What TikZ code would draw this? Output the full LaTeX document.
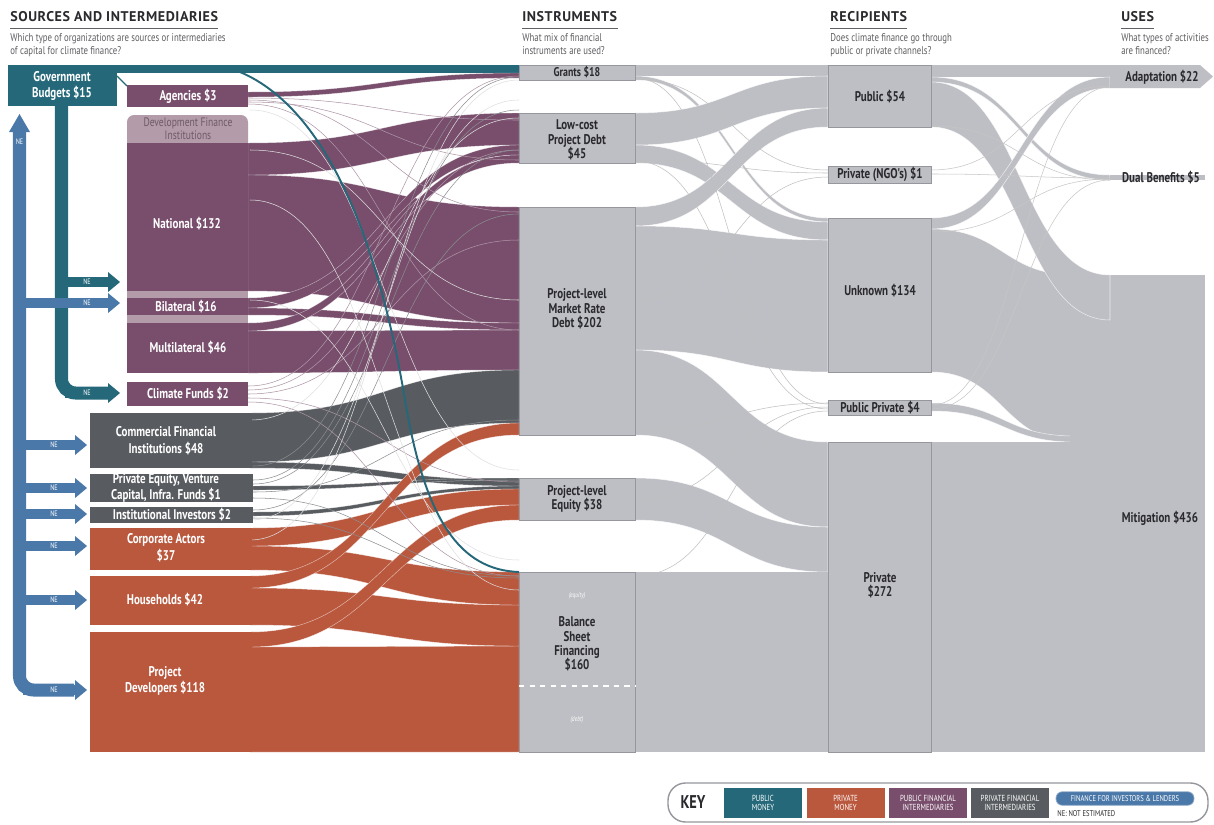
\documentclass[tikz,border=0pt]{standalone}
\usepackage{fontspec}
\setmainfont{PT Sans}
\newfontfamily\cond[FakeStretch=0.78]{PT Sans}
\newfontfamily\headfont[LetterSpace=4]{PT Sans}
\definecolor{pubmoney}{RGB}{36,104,122}
\definecolor{lendblue}{RGB}{74,120,168}
\definecolor{pubfi}{RGB}{120,78,108}
\definecolor{dfi}{RGB}{180,155,170}
\definecolor{dfitext}{RGB}{110,90,102}
\definecolor{privfi}{RGB}{88,92,96}
\definecolor{privmoney}{RGB}{186,88,62}
\definecolor{flow}{RGB}{190,191,196}
\definecolor{boxedge}{RGB}{150,151,156}
\definecolor{ink}{RGB}{42,42,46}
\definecolor{subgray}{RGB}{95,95,100}
% band between two columns: x1, top1, bottom1, x2, top2, bottom2, style
\newcommand{\flowband}[7]{\filldraw[#7] (#1,#2) .. controls ({(#1+#4)/2},#2) and ({(#1+#4)/2},#5) .. (#4,#5) -- (#4,#6) .. controls ({(#1+#4)/2},#6) and ({(#1+#4)/2},#3) .. (#1,#3) -- cycle;}
% thin line between two columns
\newcommand{\thread}[5]{\draw[#5] (#1,#2) .. controls ({(#1+#3)/2},#2) and ({(#1+#3)/2},#4) .. (#3,#4);}
% NE feed arrow: colour, x start, y, x tip
\newcommand{\nefeed}[4]{\fill[#1] (#2,#3-5) rectangle (#4-12,#3+5);
  \fill[#1] (#4-12,#3-10) -- (#4,#3) -- (#4-12,#3+10) -- cycle;
  \node[netext] at (#4-33,#3) {NE};}
\begin{document}
\begin{tikzpicture}[x=0.02cm, y=-0.02cm,
  head/.style={font=\headfont\bfseries\fontsize{8}{9}\selectfont, text=ink, inner sep=0pt, anchor=west},
  rule/.style={draw=subgray, line width=.5pt},
  sub/.style={font=\cond\fontsize{6.4}{7.6}\selectfont, text=subgray, inner sep=0pt, anchor=north west, align=left},
  srclbl/.style={font=\cond\bfseries\fontsize{8}{9.5}\selectfont, text=white, inner sep=0pt, align=center},
  inslbl/.style={font=\cond\bfseries\fontsize{8}{8.2}\selectfont, text=ink, inner sep=0pt, align=center},
  tinylbl/.style={font=\cond\itshape\fontsize{4}{4}\selectfont, text=white, inner sep=0pt},
  pband/.style={fill=pubfi, draw=white, draw opacity=.5, line width=.25pt},
  dband/.style={fill=privfi, draw=white, draw opacity=.5, line width=.25pt},
  oband/.style={fill=privmoney, draw=white, draw opacity=.6, line width=.25pt},
  gband/.style={fill=flow, draw=white, draw opacity=.7, line width=.3pt},
  box/.style={fill=flow, draw=boxedge, line width=.4pt},
  thread/.style={line width=.3pt},
  netext/.style={font=\cond\fontsize{4.5}{5}\selectfont, text=white, inner sep=0pt},
  keybox/.style={minimum width=1.56cm, minimum height=.6cm, inner sep=0pt, align=center,
    font=\cond\fontsize{5}{5.4}\selectfont, text=white}]
\useasboundingbox (0,0) rectangle (1214,825);
\fill[white] (0,0) rectangle (1214,825);

% headings
\node[head] (hsrc) at (10,17) {SOURCES AND INTERMEDIARIES};
\node[head] (hins) at (522,17) {INSTRUMENTS};
\node[head] (hrec) at (830,17) {RECIPIENTS};
\node[head] (huse) at (1121,17) {USES};
\foreach \h in {hsrc,hins,hrec,huse}
  {\draw[rule] ([yshift=-3.5pt]\h.south west) -- ([yshift=-3.5pt]\h.south east);}
\node[sub] (qsrc) at (10,33) {Which type of organizations are sources or intermediaries\\of capital for climate finance?};
\node[sub] (qins) at (522,33) {What mix of financial\\instruments are used?};
\node[sub] (qrec) at (830,33) {Does climate finance go through\\public or private channels?};
\node[sub] (quse) at (1121,33) {What types of activities\\are financed?};

% sources -> instruments
\fill[pubmoney] (117,65) rectangle (519,73);
\flowband{248}{92}{97}{519}{73}{78}{pband}
\flowband{248}{143}{175}{519}{113}{145}{pband}
\flowband{248}{175}{291}{519}{207}{323}{pband}
\flowband{248}{298}{308}{519}{145}{155}{pband}
\flowband{248}{308}{315}{519}{323}{330}{pband}
\flowband{248}{323}{331}{519}{155}{163}{pband}
\flowband{248}{331}{373}{519}{330}{370}{pband}
\flowband{250}{413}{462}{519}{370}{423}{dband}
\flowband{250}{462}{468}{519}{480}{486}{dband}
\flowband{253}{486}{490}{519}{478}{480}{dband}
\flowband{253}{512}{516}{519}{486}{489}{dband}
\flowband{250}{647}{752}{519}{646}{752}{oband}
\flowband{250}{588}{625}{519}{605}{646}{oband}
\flowband{250}{546}{570}{519}{572}{605}{oband}
\flowband{250}{528}{546}{519}{489}{505}{oband}
\flowband{250}{632}{647}{519}{505}{520}{oband}
\flowband{250}{576}{588}{519}{423}{435}{oband}
\foreach \ya/\yb in {98/120,100/212,102/160,386/76,390/150,394/240,398/482,402/576,104/330}
  {\thread{248}{\ya}{519}{\yb}{thread, pubfi!60!white}}
\foreach \ya/\yb in {484/150,492/420,498/576,510/214,518/578,466/77,480/110}
  {\thread{253}{\ya}{519}{\yb}{thread, privfi!70!white}}
\foreach \ya/\yb in {110/470,300/560,520/100,150/300,420/118,540/80,200/590}
  {\thread{250}{\ya}{519}{\yb}{thread, white!75!gray}}
\draw[pubmoney, line width=1.1pt] (240,72) .. controls (330,110) and (380,250) .. (405,400)
  .. controls (425,520) and (460,570) .. (519,572);
\draw[pubmoney, line width=.8pt] (117,76) -- (127,86);

% instruments -> recipients
\fill[flow] (635,65) rectangle (828,76);
\flowband{635}{76}{80}{828}{218}{222}{gband}
\flowband{635}{113}{145}{828}{76}{108}{gband}
\flowband{635}{145}{163}{828}{222}{240}{gband}
\flowband{635}{207}{226}{828}{108}{127}{gband}
\flowband{635}{226}{350}{828}{240}{372}{gband}
\flowband{635}{350}{435}{828}{442}{527}{gband}
\flowband{635}{478}{520}{828}{527}{572}{gband}
\fill[flow] (635,572) rectangle (828,752);
\foreach \ya/\yb in {79/170,160/173,300/177,430/403,500/407,576/411,78/404,161/409}
  {\thread{635}{\ya}{828}{\yb}{thread, gray!50}}

% recipients -> uses
\fill[flow] (931,65) rectangle (1110,77);
\flowband{931}{77}{82}{1110}{175}{180}{gband}
\flowband{931}{229}{372}{1075}{275}{442}{gband}
\flowband{931}{403}{411}{1075}{436}{442}{gband}
\fill[flow] (931,442) rectangle (1110,752);
\fill[flow] (1070,300) rectangle (1110,752);
\fill[flow] (1110,275) rectangle (1205,752);
\flowband{931}{82}{127}{1110}{275}{320}{gband}
\flowband{931}{218}{229}{1110}{77}{88}{gband}
\fill[flow] (1110,65) -- (1200,65) -- (1213,76.5) -- (1200,88) -- (1110,88) -- cycle;
\fill[flow] (1110,175) rectangle (1205,180);
\foreach \ya/\yb in {170/86,174/178,405/87,409/180,232/179,126/180}
  {\thread{931}{\ya}{1110}{\yb}{thread, gray!45}}

% source blocks
\fill[pubmoney] (8,65) rectangle (117,106);
\fill[pubfi] (127,85) rectangle (248,107);
\fill[dfi, rounded corners=4pt] (127,115) rectangle (248,150);
\fill[pubfi] (127,143) rectangle (248,291);
\fill[dfi] (127,291) rectangle (248,298);
\fill[pubfi] (127,298) rectangle (248,315);
\fill[dfi] (127,315) rectangle (248,323);
\fill[pubfi] (127,323) rectangle (248,373);
\fill[pubfi] (127,382) rectangle (248,406);
\fill[privfi] (90,413) rectangle (252,468);
\fill[privfi] (90,474) rectangle (253,502);
\fill[privfi] (90,507) rectangle (253,523);
\fill[privmoney] (90,528) rectangle (252,570);
\fill[privmoney] (90,576) rectangle (252,625);
\fill[privmoney] (90,632) rectangle (252,752);

% NE feeds
\draw[pubmoney, line width=7.4pt, rounded corners=8pt] (61.5,100) -- (61.5,393) -- (108,393);
\nefeed{pubmoney}{65}{282}{120}
\nefeed{pubmoney}{65}{393}{120}
\draw[lendblue, line width=7.4pt, rounded corners=8pt] (19.5,130) -- (19.5,690) -- (74,690);
\fill[lendblue] (9,132) -- (19.5,114) -- (30,132) -- cycle;
\node[netext] (neup) at (19.5,142) {NE};
\nefeed{lendblue}{23}{303}{120}
\foreach \y in {445,488,514,546,600,690}
  {\nefeed{lendblue}{23}{\y}{87}}

% source labels
\node[srclbl] (gov) at (62,86) {Government\\Budgets \$15};
\node[srclbl] (agen) at (188,96) {Agencies \$3};
\node[font=\cond\fontsize{7}{7.6}\selectfont, text=dfitext, align=center, inner sep=0pt] (dfin) at (188,129) {Development Finance\\Institutions};
\node[srclbl] (natl) at (187,224) {National \$132};
\node[srclbl] (bilat) at (186,307) {Bilateral \$16};
\node[srclbl] (multi) at (188,348) {Multilateral \$46};
\node[srclbl] (cfund) at (188,394) {Climate Funds \$2};
\node[srclbl] (comm) at (166,441) {Commercial Financial\\Institutions \$48};
\node[srclbl] (peq) at (166,488) {Private Equity, Venture\\Capital, Infra. Funds \$1};
\node[srclbl] (inst) at (172,515) {Institutional Investors \$2};
\node[srclbl] (corp) at (166,548) {Corporate Actors\\\$37};
\node[srclbl] (hh) at (165,600) {Households \$42};
\node[srclbl] (pdev) at (165,681) {Project\\Developers \$118};

% instruments
\draw[box] (519,65) rectangle (635,80);
\draw[box] (519,113) rectangle (635,163);
\draw[box] (519,207) rectangle (635,435);
\draw[box] (519,478) rectangle (635,520);
\draw[box] (519,572) rectangle (635,752);
\draw[white, dashed, line width=.6pt] (519,686) -- (635,686);
\node[inslbl, font=\cond\bfseries\fontsize{7.2}{8}\selectfont] (grant) at (577,72.5) {Grants \$18};
\node[inslbl] (lcd) at (577,140) {Low-cost\\Project Debt\\\$45};
\node[inslbl] (mrd) at (577,309) {Project-level\\Market Rate\\Debt \$202};
\node[inslbl] (equ) at (577,499) {Project-level\\Equity \$38};
\node[inslbl] (bsf) at (577,644) {Balance\\Sheet\\Financing\\\$160};
\node[tinylbl] (beq) at (577,596) {(equity)};
\node[tinylbl] (bdebt) at (577,720) {(debt)};

% recipients
\draw[box] (828,65) rectangle (931,127);
\draw[box] (828,166) rectangle (931,183);
\draw[box] (828,218) rectangle (931,372);
\draw[box] (828,400) rectangle (931,415);
\draw[box] (828,442) rectangle (931,752);
\node[inslbl] (rpub) at (880,97) {Public \$54};
\node[inslbl] (rngo) at (880,174.5) {Private (NGO's) \$1};
\node[inslbl] (runk) at (880,291) {Unknown \$134};
\node[inslbl] (rpp) at (880,407.5) {Public Private \$4};
\node[inslbl] (rpriv) at (880,585) {Private\\\$272};

% uses
\node[inslbl] (uada) at (1162,77) {Adaptation \$22};
\node[inslbl] (udual) at (1161,178) {Dual Benefits \$5};
\node[inslbl] (umit) at (1160,518) {Mitigation \$436};

% key
\draw[boxedge, line width=.8pt, rounded corners=10pt, fill=white] (668,783) rectangle (1208,822);
\node[font=\cond\bfseries\fontsize{10.5}{11}\selectfont, text=ink, inner sep=0pt] (key) at (693,802.5) {KEY};
\node[keybox, fill=pubmoney] (kpub) at (763,803) {PUBLIC\\MONEY};
\node[keybox, fill=privmoney] (kpriv) at (845.5,803) {PRIVATE\\MONEY};
\node[keybox, fill=pubfi] (kpfi) at (928,803) {PUBLIC FINANCIAL\\INTERMEDIARIES};
\node[keybox, fill=privfi] (kprfi) at (1010,803) {PRIVATE FINANCIAL\\INTERMEDIARIES};
\node[fill=lendblue, draw=lendblue!60!white, line width=.4pt, rounded corners=3.5pt, minimum width=2.76cm,
  minimum height=.27cm, inner sep=0pt, font=\cond\fontsize{4.8}{5}\selectfont, text=white] (klend) at (1125,798.5) {FINANCE FOR INVESTORS \& LENDERS};
\node[anchor=west, inner sep=0pt, font=\cond\fontsize{4.8}{5}\selectfont, text=ink] (kne) at (1057,813.5) {NE: NOT ESTIMATED};
\end{tikzpicture}
\end{document}
